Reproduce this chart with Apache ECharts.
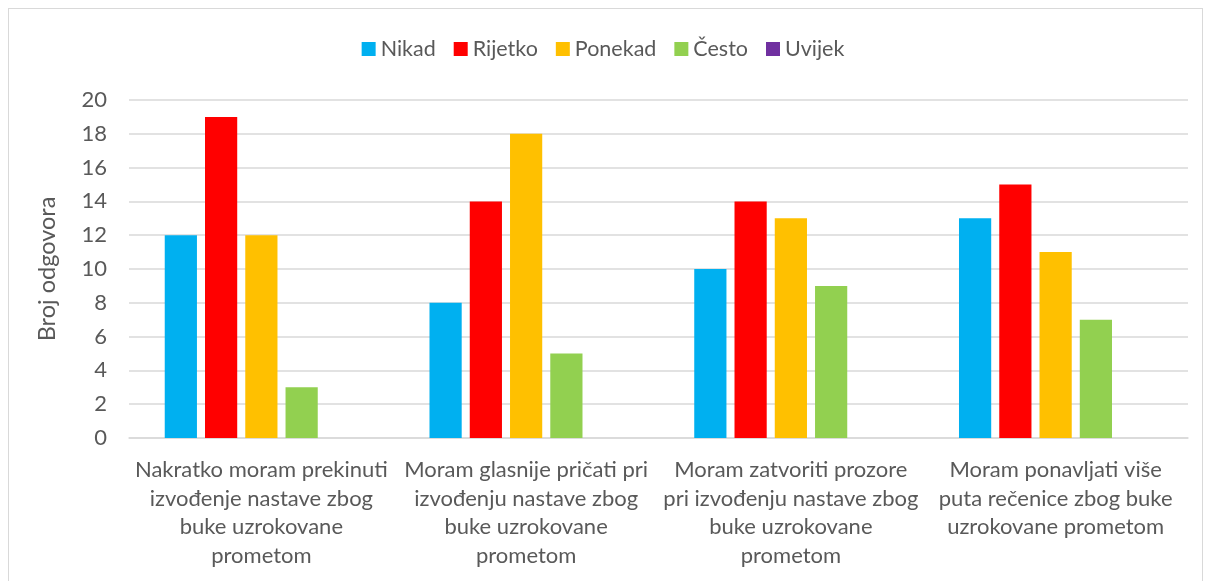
<!DOCTYPE html>
<html>
<head>
<meta charset="utf-8">
<script src="https://cdn.jsdelivr.net/npm/echarts@6/dist/echarts.min.js"></script>
<style>
  html, body { margin: 0; padding: 0; background: #fff; }
  #frame {
    position: absolute; left: 8px; top: 8px; width: 1195px; height: 580px;
    border: 1.5px solid #d9d9d9; box-sizing: border-box;
  }
  #chart { position: absolute; left: 0; top: 0; width: 1206px; height: 581px; }
</style>
</head>
<body>
<div id="frame"></div>
<div id="chart"></div>
<script>
// kategorije (pitanja) s prijelomima redaka kao u izvorniku
const categories = [
  'Nakratko moram prekinuti\nizvođenje nastave zbog\nbuke uzrokovane\nprometom',
  'Moram glasnije pričati pri\nizvođenju nastave zbog\nbuke uzrokovane\nprometom',
  'Moram zatvoriti prozore\npri izvođenju nastave zbog\nbuke uzrokovane\nprometom',
  'Moram ponavljati više\nputa rečenice zbog buke\nuzrokovane prometom'
]
const seriesNames = ['Nikad', 'Rijetko', 'Ponekad', 'Često', 'Uvijek']
const nikad = [12, 8, 10, 13]
const rijetko = [19, 14, 14, 15]
const ponekad = [12, 18, 13, 11]
const cesto = [3, 5, 9, 7]
const uvijek = [0, 0, 0, 0]
const yTicks = [0, 2, 4, 6, 8, 10, 12, 14, 16, 18, 20]

const colors = ['#00B0F0', '#FF0000', '#FFC000', '#92D050', '#7030A0']
const values = [nikad, rijetko, ponekad, cesto, uvijek]
const font = 'Lato, "Open Sans", sans-serif'
const textColor = '#595959'

const chart = echarts.init(document.getElementById('chart'))

const option = {
  animation: false,
  textStyle: { fontFamily: font },
  legend: {
    top: 33,
    left: 'center',
    itemWidth: 14,
    itemHeight: 14,
    itemGap: 18,
    icon: 'rect',
    textStyle: { color: textColor, fontSize: 21.5, fontFamily: font },
    data: seriesNames
  },
  grid: {
    left: 129,
    right: 18,
    top: 100,
    bottom: 143
  },
  xAxis: {
    type: 'category',
    data: categories,
    axisTick: { show: false },
    axisLine: { lineStyle: { color: '#d9d9d9', width: 1.5 } },
    axisLabel: {
      color: textColor,
      fontSize: 22,
      fontFamily: font,
      lineHeight: 28.5,
      margin: 18,
      interval: 0
    }
  },
  yAxis: {
    type: 'value',
    min: yTicks[0],
    max: yTicks[yTicks.length - 1],
    interval: 2,
    name: 'Broj odgovora',
    nameLocation: 'middle',
    nameGap: 70,
    nameTextStyle: { color: textColor, fontSize: 23.5, fontFamily: font },
    axisLine: { show: false },
    axisTick: { show: false },
    axisLabel: { color: textColor, fontSize: 22, fontFamily: font, margin: 22 },
    splitLine: { lineStyle: { color: '#d9d9d9', width: 1.5 } }
  },
  series: seriesNames.map((name, i) => ({
    name: name,
    type: 'bar',
    data: values[i],
    barGap: '25%',
    barCategoryGap: '27%',
    itemStyle: { color: colors[i] }
  }))
}

chart.setOption(option)
</script>
</body>
</html>
